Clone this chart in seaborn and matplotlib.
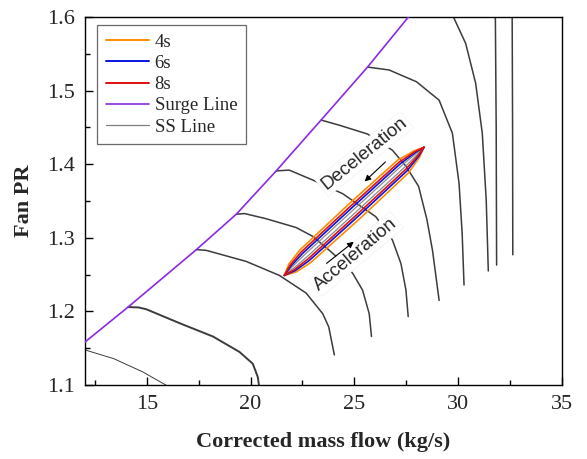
import matplotlib
matplotlib.use("Agg")
import matplotlib.pyplot as plt
import seaborn as sns
import pandas as pd
from matplotlib.lines import Line2D

# ---------------- data ----------------
surge_x = [12.0, 14.1, 17.39, 19.31, 21.24, 23.4, 25.64, 27.64]
surge_y = [1.158, 1.206, 1.284, 1.332, 1.391, 1.46, 1.532, 1.601]

ss1_x = [12.0, 13.4, 14.8, 16.05]
ss1_y = [1.148, 1.136, 1.118, 1.098]
ss2_x = [14.1, 14.6, 14.98, 16.59, 18.19, 19.47, 20.11, 20.35, 20.43]
ss2_y = [1.206, 1.2055, 1.203, 1.184, 1.166, 1.145, 1.129, 1.111, 1.095]
ss3_x = [17.39, 17.87, 19.79, 21.39, 22.68, 23.48, 23.77, 24.04]
ss3_y = [1.284, 1.283, 1.268, 1.249, 1.225, 1.197, 1.179, 1.141]
ss4_x = [19.31, 19.71, 20.75, 22.2, 23.0, 23.8, 24.4, 24.92, 25.4, 25.72, 25.83]
ss4_y = [1.332, 1.333, 1.326, 1.314, 1.302, 1.283, 1.268, 1.252, 1.229, 1.197, 1.166]
ss5_x = [21.24, 21.87, 23.0, 24.44, 26.04, 26.84, 27.25, 27.49, 27.6]
ss5_y = [1.391, 1.392, 1.3785, 1.360, 1.3287, 1.297, 1.265, 1.229, 1.193]
ss6_x = [23.4, 24.28, 25.64, 26.84, 27.5, 28.1, 28.5, 28.77, 29.09]
ss6_y = [1.46, 1.453, 1.441, 1.419, 1.397, 1.37, 1.325, 1.283, 1.215]
ss7_x = [25.64, 26.68, 28.0, 29.09, 29.73, 30.05, 30.2, 30.29]
ss7_y = [1.532, 1.528, 1.512, 1.487, 1.442, 1.374, 1.306, 1.236]
ss8_x = [29.78, 30.37, 30.85, 31.17, 31.36, 31.46]
ss8_y = [1.6, 1.564, 1.51, 1.442, 1.351, 1.255]
ss9_x = [31.80, 31.84, 31.86]
ss9_y = [1.6, 1.45, 1.263]
ss10_x = [32.61, 32.63, 32.64]
ss10_y = [1.6, 1.45, 1.277]

# transient loops (upper branch and lower branch, tip to tip)
l4_up_x = [21.63, 21.846, 22.374, 24.708, 27.084, 27.878, 28.36]
l4_up_y = [1.249, 1.2644, 1.2834, 1.3451, 1.4054, 1.4181, 1.423]
l4_lo_x = [21.63, 22.21, 22.913, 25.296, 27.623, 28.158, 28.36]
l4_lo_y = [1.249, 1.2538, 1.2667, 1.3269, 1.3885, 1.4101, 1.423]

l6_up_x = [21.63, 21.952, 22.514, 24.858, 27.225, 27.961, 28.36]
l6_up_y = [1.249, 1.2619, 1.279, 1.3402, 1.4008, 1.4163, 1.423]
l6_lo_x = [21.63, 22.157, 22.829, 25.199, 27.54, 28.118, 28.36]
l6_lo_y = [1.249, 1.2556, 1.2692, 1.3297, 1.391, 1.4114, 1.423]

l8_up_x = [21.63, 21.911, 22.451, 24.791, 27.162, 27.93, 28.36]
l8_up_y = [1.249, 1.2632, 1.281, 1.3423, 1.4028, 1.4172, 1.423]
l8_lo_x = [21.63, 22.116, 22.766, 25.132, 27.477, 28.087, 28.36]
l8_lo_y = [1.249, 1.2569, 1.2712, 1.3318, 1.393, 1.4123, 1.423]

lg_up_x = [21.63, 22.001, 22.589, 24.94, 27.3, 27.999, 28.36]
lg_up_y = [1.249, 1.2604, 1.2767, 1.3377, 1.3985, 1.4151, 1.423]
lg_lo_x = [21.63, 22.067, 22.691, 25.05, 27.402, 28.049, 28.36]
lg_lo_y = [1.249, 1.2584, 1.2735, 1.3343, 1.3953, 1.4135, 1.423]

legend_labels = ["4s", "6s", "8s", "Surge Line", "SS Line"]
x_ticks = [15, 20, 25, 30, 35]
y_ticks = [1.1, 1.2, 1.3, 1.4, 1.5, 1.6]

# ---------------- style ----------------
sns.set_theme(style="ticks")
plt.rcParams["font.family"] = ["Liberation Serif", "DejaVu Serif"]

C_ORANGE = "#ff8c00"
C_BLUE = "#0a14dc"
C_RED = "#e01010"
C_PURPLE = "#8a2be2"
C_SS = "#3c3c3c"

fig = plt.figure(figsize=(5.87, 4.59), dpi=100)
ax = fig.add_axes([0.144, 0.161, 0.813, 0.802])


def draw(xs, ys, color, lw, z):
    df = pd.DataFrame({"x": xs, "y": ys})
    sns.lineplot(data=df, x="x", y="y", sort=False, estimator=None,
                 color=color, lw=lw, ax=ax, zorder=z)


for xs, ys, lw in [(ss1_x, ss1_y, 0.7), (ss2_x, ss2_y, 1.4), (ss3_x, ss3_y, 1.1),
                   (ss4_x, ss4_y, 1.1), (ss5_x, ss5_y, 1.1), (ss6_x, ss6_y, 1.1),
                   (ss7_x, ss7_y, 1.1), (ss8_x, ss8_y, 1.1), (ss9_x, ss9_y, 1.1),
                   (ss10_x, ss10_y, 1.1)]:
    draw(xs, ys, C_SS, lw, 2)

draw(surge_x, surge_y, C_PURPLE, 1.2, 5)

for ux, uy, lx, ly, c, lw in [(lg_up_x, lg_up_y, lg_lo_x, lg_lo_y, "#8c8c8c", 0.9),
                              (l4_up_x, l4_up_y, l4_lo_x, l4_lo_y, C_ORANGE, 1.2),
                              (l6_up_x, l6_up_y, l6_lo_x, l6_lo_y, C_BLUE, 1.2),
                              (l8_up_x, l8_up_y, l8_lo_x, l8_lo_y, C_RED, 1.2)]:
    draw(ux, uy, c, lw, 6)
    draw(lx, ly, c, lw, 6)

# annotations
txt_kw = dict(family=["Liberation Sans", "DejaVu Sans"], fontsize=13.5,
              ha="center", va="center", zorder=4,
              bbox=dict(facecolor="white", edgecolor="#f2f2f2", pad=1.5, lw=0.5))
ax.text(25.48, 1.414, "Deceleration", rotation=39, **txt_kw)
ax.text(25.08, 1.278, "Acceleration", rotation=40, **txt_kw)
arrow_kw = dict(arrowstyle="-|>", color="black", lw=0.8, mutation_scale=9)
ax.annotate("", xy=(25.4, 1.374), xytext=(26.6, 1.4057), arrowprops=arrow_kw, zorder=7)
ax.annotate("", xy=(25.08, 1.297), xytext=(23.56, 1.263), arrowprops=arrow_kw, zorder=7)

# axes
ax.set_xlim(12, 35)
ax.set_ylim(1.1, 1.6)
ax.set_xticks(x_ticks)
ax.set_yticks(y_ticks)
ax.set_xticks([12.5, 17.5, 22.5, 27.5, 32.5], minor=True)
ax.set_yticks([1.15, 1.25, 1.35, 1.45, 1.55], minor=True)
ax.set_xticklabels([str(v) for v in x_ticks], fontsize=16)
ax.set_yticklabels([f"{v:.1f}" for v in y_ticks], fontsize=16)
ax.tick_params(axis="both", which="major", direction="in", length=6, width=1,
               color="black", pad=7)
ax.tick_params(axis="both", which="minor", direction="in", length=3.5, width=1,
               color="black")
ax.tick_params(top=False, right=False, which="both")
for s in ax.spines.values():
    s.set_visible(True)
    s.set_color("black")
    s.set_linewidth(1.0)
ax.set_xlabel("Corrected mass flow (kg/s)", fontsize=16, fontweight="bold", labelpad=13)
ax.set_ylabel("Fan PR", fontsize=16, fontweight="bold", labelpad=9)

handles = [Line2D([], [], color=C_ORANGE, lw=1.4),
           Line2D([], [], color=C_BLUE, lw=1.4),
           Line2D([], [], color=C_RED, lw=1.4),
           Line2D([], [], color=C_PURPLE, lw=1.2),
           Line2D([], [], color="#808080", lw=0.9)]
leg = ax.legend(handles, legend_labels, loc="upper left", bbox_to_anchor=(0.027, 0.978),
                fontsize=13.5, frameon=True, fancybox=False, edgecolor="#444444",
                handlelength=2.3, handletextpad=0.3, labelspacing=0.22,
                borderpad=0.45, borderaxespad=0)
leg.get_frame().set_linewidth(0.9)

fig.savefig("out.png", dpi=100)
